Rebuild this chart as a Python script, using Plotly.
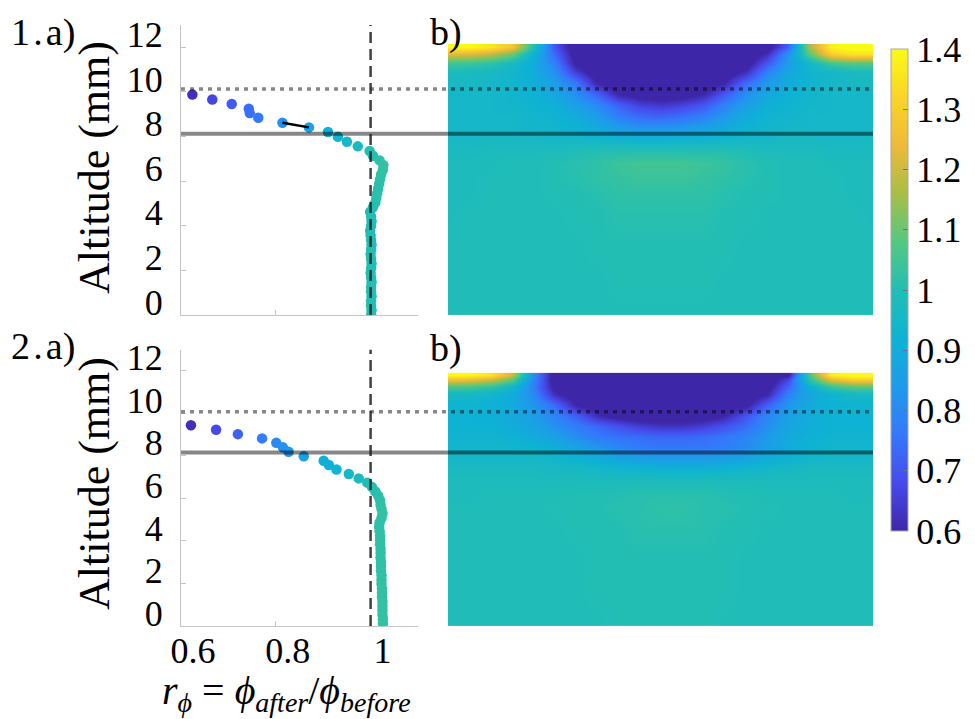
import plotly.graph_objects as go

# ---------------- data ----------------
# panel 1.a) profile: altitude (mm) and ratio r_phi
alt_top = [9.88, 9.66, 9.46, 9.25, 9.05, 8.84, 8.62, 8.41, 8.20, 7.99, 7.77, 7.56,
           7.35, 7.14, 6.93, 6.72, 6.51, 6.30, 6.09, 5.88, 5.67, 5.46, 5.25, 5.04,
           4.83, 4.62, 4.41, 4.20, 3.99, 3.78, 3.57, 3.36, 3.15, 2.94, 2.73, 2.52,
           2.31, 2.10, 1.89, 1.68, 1.47, 1.26, 1.05, 0.84, 0.63, 0.42, 0.21, 0.00]
r_top = [0.624, 0.666, 0.707, 0.743, 0.745, 0.763, 0.814, 0.870, 0.910, 0.931, 0.950, 0.973,
         0.998, 1.005, 1.019, 1.027, 1.026, 1.022, 1.020, 1.018, 1.016, 1.014, 1.012, 1.010,
         1.005, 0.999, 1.001, 1.002, 1.001, 0.999, 1.000, 1.001, 1.002, 1.001, 1.000, 1.001,
         1.002, 1.001, 1.000, 1.001, 1.002, 1.001, 1.001, 1.002, 1.001, 1.001, 1.002, 1.001]
# short black segment joining two points in 1.a)
seg_alt = [8.62, 8.41]
seg_r = [0.814, 0.870]

# panel 2.a) profile
alt_bot = [9.44, 9.23, 9.02, 8.82, 8.61, 8.40, 8.19, 7.98, 7.77, 7.57, 7.36,
           7.15, 6.94, 6.74, 6.53, 6.32, 6.12, 5.91, 5.70, 5.50, 5.29, 5.08,
           4.87, 4.67, 4.46, 4.25, 4.05, 3.84, 3.63, 3.43, 3.22, 3.01, 2.81,
           2.60, 2.39, 2.18, 1.98, 1.77, 1.56, 1.36, 1.15, 0.94, 0.74, 0.53,
           0.32, 0.12]
r_bot = [0.621, 0.674, 0.720, 0.771, 0.801, 0.815, 0.827, 0.859, 0.901, 0.912, 0.928,
         0.954, 0.975, 0.993, 1.003, 1.010, 1.016, 1.020, 1.021, 1.023, 1.025, 1.023,
         1.019, 1.018, 1.019, 1.020, 1.020, 1.020, 1.021, 1.021, 1.021, 1.022, 1.022,
         1.022, 1.023, 1.023, 1.023, 1.024, 1.024, 1.024, 1.025, 1.025, 1.025, 1.025,
         1.026, 1.026]

# reference altitudes: solid line and dotted line (mm), one per row
solid_alt = [8.12, 8.16]
dotted_alt = [10.13, 10.07]

# b) maps: coarse grid (horizontal position 0..1, altitude mm)
hm_x = [0.0, 0.05, 0.1, 0.15, 0.2, 0.25, 0.3, 0.35, 0.4, 0.45, 0.5,
        0.55, 0.6, 0.65, 0.7, 0.75, 0.8, 0.85, 0.9, 0.95, 1.0]
hm_alt_top = [0.0, 1.5, 3.0, 4.5, 5.5, 6.2, 6.8, 7.4, 7.9, 8.4, 8.9, 9.4,
              9.9, 10.4, 10.9, 11.3, 11.7, 12.0]
z_top = [
    [.99, .99, .99, .99, .99, .99, .99, .99, .99, .99, .99, .99, .99, .99, .99, .99, .99, .99, .99, .99, .99],
    [.99, .99, .99, .99, .99, .99, .99, .99, 1.0, 1.0, 1.0, 1.0, 1.0, .99, .99, .99, .99, .99, .99, .99, .99],
    [.99, .99, .99, .99, .99, .99, .99, 1.0, 1.0, 1.0, 1.0, 1.0, 1.0, 1.0, .99, .99, .99, .99, .99, .99, .99],
    [.98, .99, .99, .99, .99, .99, 1.0, 1.0, 1.01, 1.01, 1.01, 1.01, 1.01, 1.0, 1.0, .99, .99, .99, .99, .99, .98],
    [.98, .98, .99, .99, .99, 1.0, 1.0, 1.01, 1.02, 1.02, 1.02, 1.02, 1.02, 1.01, 1.0, 1.0, .99, .99, .99, .98, .98],
    [.98, .98, .99, .99, .99, 1.0, 1.01, 1.02, 1.03, 1.04, 1.04, 1.04, 1.03, 1.02, 1.01, 1.0, .99, .99, .99, .98, .98],
    [.98, .98, .98, .99, .99, 1.0, 1.01, 1.02, 1.04, 1.05, 1.05, 1.05, 1.04, 1.03, 1.01, 1.0, .99, .99, .98, .98, .98],
    [.97, .97, .98, .98, .98, .98, .99, 1.0, 1.0, 1.0, 1.0, 1.0, 1.0, 1.0, .99, .98, .98, .98, .97, .97, .97],
    [.96, .96, .96, .96, .96, .95, .95, .94, .93, .92, .92, .93, .93, .94, .95, .95, .96, .96, .96, .96, .96],
    [.95, .95, .95, .95, .94, .94, .92, .89, .85, .83, .83, .84, .86, .89, .92, .94, .95, .95, .95, .95, .95],
    [.95, .95, .95, .95, .94, .93, .90, .85, .78, .74, .73, .75, .78, .84, .90, .93, .94, .95, .95, .95, .95],
    [.95, .95, .95, .94, .93, .91, .86, .80, .72, .66, .64, .66, .70, .78, .86, .91, .93, .94, .95, .95, .95],
    [.95, .95, .95, .94, .92, .88, .81, .72, .60, .56, .55, .56, .60, .70, .81, .88, .92, .94, .95, .95, .95],
    [.96, .96, .95, .94, .91, .85, .76, .60, .55, .55, .55, .55, .55, .60, .74, .84, .90, .93, .95, .96, .96],
    [.98, .97, .96, .94, .90, .82, .65, .55, .55, .55, .55, .55, .55, .55, .62, .78, .88, .93, .95, .97, .98],
    [1.05, 1.04, 1.02, .97, .90, .78, .58, .55, .55, .55, .55, .55, .55, .55, .56, .70, .85, .95, 1.05, 1.08, 1.08],
    [1.22, 1.22, 1.18, 1.10, .92, .74, .56, .55, .55, .55, .55, .55, .55, .55, .55, .62, .82, 1.08, 1.30, 1.35, 1.35],
    [1.40, 1.40, 1.36, 1.28, 1.00, .70, .55, .55, .55, .55, .55, .55, .55, .55, .55, .56, .72, 1.15, 1.38, 1.42, 1.42],
]
hm_alt_bot = [0.0, 1.5, 3.0, 4.5, 5.5, 6.2, 6.8, 7.4, 7.9, 8.4, 8.9, 9.4,
              9.9, 10.4, 10.9, 11.3, 11.6, 11.8]
z_bot = [
    [.99, .99, .99, .99, .99, .99, .99, .99, 1.0, 1.0, 1.0, 1.0, 1.0, .99, .99, .99, .99, .99, .99, .99, .99],
    [.99, .99, .99, .99, .99, .99, .99, 1.0, 1.0, 1.0, 1.0, 1.0, 1.0, 1.0, .99, .99, .99, .99, .99, .99, .99],
    [.99, .99, .99, .99, .99, .99, .99, 1.0, 1.0, 1.0, 1.0, 1.0, 1.0, 1.0, .99, .99, .99, .99, .99, .99, .99],
    [.99, .99, .99, .99, .99, .99, 1.0, 1.0, 1.0, 1.01, 1.01, 1.01, 1.01, 1.0, 1.0, .99, .99, .99, .99, .99, .99],
    [.99, .99, .99, .99, .99, 1.0, 1.0, 1.0, 1.01, 1.01, 1.02, 1.02, 1.01, 1.01, 1.0, 1.0, .99, .99, .99, .99, .99],
    [.98, .98, .99, .99, .99, .99, 1.0, 1.0, 1.0, 1.01, 1.01, 1.01, 1.01, 1.0, 1.0, .99, .99, .99, .99, .98, .98],
    [.98, .98, .98, .98, .98, .98, .98, .98, .98, .98, .98, .98, .98, .98, .98, .98, .98, .98, .98, .98, .98],
    [.97, .97, .97, .97, .97, .96, .96, .95, .94, .93, .92, .92, .92, .93, .94, .95, .96, .97, .97, .97, .97],
    [.95, .95, .95, .95, .95, .94, .92, .90, .87, .85, .84, .84, .84, .85, .87, .90, .92, .94, .95, .95, .95],
    [.94, .94, .94, .94, .93, .91, .87, .83, .79, .77, .76, .76, .76, .77, .80, .85, .89, .92, .94, .94, .94],
    [.93, .93, .93, .92, .90, .86, .81, .77, .75, .74, .73, .73, .74, .76, .79, .84, .89, .92, .93, .93, .93],
    [.92, .92, .92, .90, .87, .82, .77, .73, .69, .65, .63, .63, .65, .69, .74, .81, .87, .90, .92, .92, .92],
    [.92, .92, .91, .89, .85, .79, .72, .62, .57, .55, .55, .55, .56, .60, .70, .79, .86, .90, .92, .92, .92],
    [.93, .93, .92, .89, .83, .74, .60, .55, .55, .55, .55, .55, .55, .55, .58, .72, .83, .89, .92, .93, .93],
    [.96, .96, .94, .90, .80, .62, .55, .55, .55, .55, .55, .55, .55, .55, .55, .60, .78, .88, .93, .96, .96],
    [1.08, 1.07, 1.04, .96, .78, .58, .55, .55, .55, .55, .55, .55, .55, .55, .55, .56, .72, .92, 1.05, 1.10, 1.10],
    [1.28, 1.27, 1.22, 1.10, .80, .56, .55, .55, .55, .55, .55, .55, .55, .55, .55, .55, .66, 1.02, 1.25, 1.32, 1.32],
    [1.40, 1.40, 1.36, 1.20, .82, .56, .55, .55, .55, .55, .55, .55, .55, .55, .55, .55, .58, 1.05, 1.38, 1.42, 1.42],
]

cbar_vals = [0.6, 0.7, 0.8, 0.9, 1.0, 1.1, 1.2, 1.3, 1.4]
cbar_text = ["0.6", "0.7", "0.8", "0.9", "1", "1.1", "1.2", "1.3", "1.4"]
xtick_vals = [0.6, 0.8, 1.0]
xtick_text = ["0.6", "0.8", "1"]
ytick_vals = [0, 2, 4, 6, 8, 10, 12]

# parula-like colour scale
parula = [
    [0.0, "rgb(62,38,168)"],
    [0.1, "rgb(71,75,236)"],
    [0.2, "rgb(52,120,252)"],
    [0.3, "rgb(30,155,234)"],
    [0.4, "rgb(14,178,212)"],
    [0.5, "rgb(34,190,180)"],
    [0.6, "rgb(85,200,128)"],
    [0.7, "rgb(168,190,70)"],
    [0.8, "rgb(238,186,58)"],
    [0.9, "rgb(250,212,40)"],
    [1.0, "rgb(249,251,21)"],
]

# the page body adds an 8 px margin, so the figure is a bit smaller and
# every position below is given in page pixels minus that offset
OFF = 8
W, H = 975 - OFF, 719 - OFF
SERIF = "Liberation Serif, DejaVu Serif, serif"
AX_GREY = "#c4c4c4"
LINE_RGBA = "rgba(0,0,0,0.47)"


def px_x(p):
    return (p - OFF) / W


def px_y(p):
    return 1 - (p - OFF) / H


fig = go.Figure()

# profiles
for alt, r, xa, ya in [(alt_top, r_top, "x", "y"), (alt_bot, r_bot, "x3", "y2")]:
    fig.add_trace(go.Scatter(
        x=r, y=alt, mode="markers", xaxis=xa, yaxis=ya,
        marker=dict(size=10.5, color=r, colorscale=parula, cmin=0.6, cmax=1.4,
                    line=dict(width=0)),
        showlegend=False, hoverinfo="x+y"))

fig.add_trace(go.Scatter(x=seg_r, y=seg_alt, mode="lines", xaxis="x", yaxis="y",
                         line=dict(color="black", width=2.5), showlegend=False))

# maps
fig.add_trace(go.Heatmap(
    x=hm_x, y=hm_alt_top, z=z_top, xaxis="x2", yaxis="y", zsmooth="best",
    colorscale=parula, zmin=0.6, zmax=1.4,
    colorbar=dict(x=px_x(891), xanchor="left", y=px_y(290), yanchor="middle",
                  lenmode="pixels", len=482, thickness=17, xpad=0, ypad=0,
                  outlinecolor="#a8a8a8", outlinewidth=1,
                  tickvals=cbar_vals, ticktext=cbar_text, ticks="inside",
                  ticklen=5, tickcolor="#707070",
                  tickfont=dict(family=SERIF, size=36, color="black"))))
fig.add_trace(go.Heatmap(
    x=hm_x, y=hm_alt_bot, z=z_bot, xaxis="x4", yaxis="y2", zsmooth="best",
    colorscale=parula, zmin=0.6, zmax=1.4, showscale=False))

left_x = dict(range=[0.6, 1.1], showgrid=False, zeroline=False, showline=True,
              linecolor=AX_GREY, linewidth=1, ticks="inside", ticklen=5,
              tickcolor=AX_GREY, tickvals=xtick_vals, ticktext=xtick_text,
              tickfont=dict(family=SERIF, size=36, color="black"),
              ticklabelstandoff=-7, ticklabelshift=12, automargin=False)
left_y = dict(range=[0, 13], showgrid=False, zeroline=False, showline=True,
              linecolor=AX_GREY, linewidth=1, ticks="inside", ticklen=5,
              tickcolor=AX_GREY, tickvals=ytick_vals,
              tickfont=dict(family=SERIF, size=36, color="black"),
              ticklabelstandoff=10, ticklabelshift=-13, automargin=False)
map_x = dict(range=[0, 1], visible=False)

fig.update_layout(
    width=W, height=H, margin=dict(l=0, r=0, t=0, b=0, autoexpand=False),
    paper_bgcolor="white", plot_bgcolor="rgba(0,0,0,0)",
    font=dict(family=SERIF, color="black"),
    xaxis=dict(left_x, domain=[px_x(181), px_x(418)], anchor="y", showticklabels=False),
    xaxis2=dict(map_x, domain=[px_x(448), px_x(873)], anchor="y"),
    yaxis=dict(left_y, domain=[px_y(315), px_y(25)], anchor="x"),
    xaxis3=dict(left_x, domain=[px_x(181), px_x(418)], anchor="y2"),
    xaxis4=dict(map_x, domain=[px_x(448), px_x(873)], anchor="y2"),
    yaxis2=dict(left_y, domain=[px_y(626), px_y(349.5)], anchor="x3"),
)

# reference lines across profile and map
for i, (xa, ya) in enumerate([("x", "y"), ("x3", "y2")]):
    fig.add_shape(type="line", xref="paper", yref=ya, x0=px_x(181), x1=px_x(873),
                  y0=solid_alt[i], y1=solid_alt[i], line=dict(color=LINE_RGBA, width=4))
    fig.add_shape(type="line", xref="paper", yref=ya, x0=px_x(181), x1=px_x(873),
                  y0=dotted_alt[i], y1=dotted_alt[i],
                  line=dict(color=LINE_RGBA, width=3.5, dash="4px,5px"))
    fig.add_shape(type="line", xref=xa, yref=ya, x0=1.0, x1=1.0, y0=0, y1=13,
                  line=dict(color="rgba(30,30,30,0.85)", width=2.5, dash="11px,6px"))

# panel letters and axis labels
labels = [("1\u200a.\u200aa)", 9, 8.5), ("b)", 428, 8.5),
          ("2\u200a.\u200aa)", 9, 323), ("b)", 428, 325)]
for txt, x, y in labels:
    fig.add_annotation(text=txt, xref="paper", yref="paper", x=px_x(x), y=px_y(y),
                       xanchor="left", yanchor="top", showarrow=False,
                       font=dict(family=SERIF, size=38, color="black"))
for yc in [168, 484]:
    fig.add_annotation(text="Altitude (mm)", xref="paper", yref="paper",
                       x=px_x(94), y=px_y(yc), textangle=-90, showarrow=False,
                       xanchor="center", yanchor="middle",
                       font=dict(family=SERIF, size=44, color="black"))
fig.add_annotation(
    text="<i>r</i><sub><i>ϕ</i></sub> = <i>ϕ</i><sub><i>after</i></sub>/<i>ϕ</i><sub><i>before</i></sub>",
    xref="paper", yref="paper", x=px_x(286), y=px_y(693), showarrow=False,
    xanchor="center", yanchor="middle", font=dict(family=SERIF, size=40, color="black"))

fig.write_html("out.html")
